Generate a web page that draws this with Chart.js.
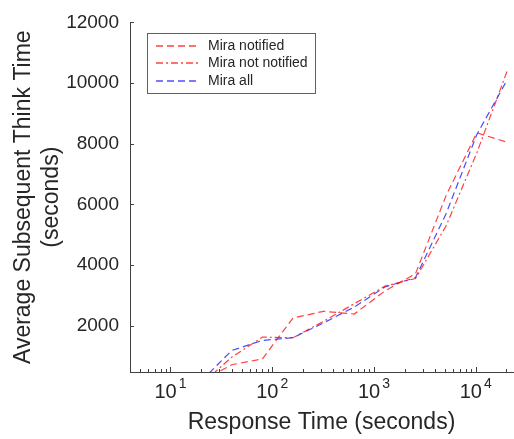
<!DOCTYPE html>
<html lang="en">
<head>
<meta charset="UTF-8">
<title>Average Subsequent Think Time</title>
<script src="https://cdn.jsdelivr.net/npm/chart.js"></script>
<style>
  body { margin: 0; padding: 0; background: #fff; }
  #wrap { width: 514px; height: 439px; }
</style>
</head>
<body>
<div id="wrap"><canvas id="chart" width="514" height="439"></canvas></div>
<script>
// response time bins (seconds)
const responseTimes = [20, 40, 80, 160, 320, 640, 1280, 2560, 5120, 10240, 20480];
// average subsequent think time (seconds)
const miraNotified    = [180, 720, 910, 2260, 2480, 2390, 3150, 3720, 6300, 8360, 8050];
const miraNotNotified = [70, 970, 1630, 1610, 2150, 2730, 3310, 3560, 5300, 7700, 10420];
const miraAll         = [180, 1190, 1520, 1610, 2100, 2620, 3280, 3590, 5700, 8300, 10120];
const seriesNames = ["Mira notified", "Mira not notified", "Mira all"];
const xTickExponents = [1, 2, 3, 4];
const yTicks = [2000, 4000, 6000, 8000, 10000, 12000];
const xRange = [4, 23240];
const yRange = [480, 12000];

const textColor = '#262626';
const axisColor = '#404040';
const red = 'rgba(255, 0, 0, 0.75)';
const blue = 'rgba(0, 0, 255, 0.7)';
const fontFamily = '"Liberation Sans", Arial, sans-serif';

function pts(ys) {
    return responseTimes.map((x, i) => ({ x: x, y: ys[i] }));
}

// ticks, superscript labels and legend box
const decor = {
    id: 'decor',
    afterDraw(chart) {
        const ctx = chart.ctx;
        const xs = chart.scales.x, ys = chart.scales.y;
        const area = chart.chartArea;
        ctx.save();
        ctx.strokeStyle = axisColor;
        ctx.lineWidth = 1;
        ctx.beginPath();
        yTicks.forEach(v => {
            const y = Math.round(ys.getPixelForValue(v)) + 0.5;
            ctx.moveTo(area.left, y);
            ctx.lineTo(area.left + 4, y);
        });
        for (let e = 0; e <= 4; e++) {
            for (let m = 1; m <= 9; m++) {
                const v = m * Math.pow(10, e);
                if (v < xRange[0] || v > xRange[1]) continue;
                const x = Math.round(xs.getPixelForValue(v)) + 0.5;
                const len = m === 1 ? 5 : 3;
                ctx.moveTo(x, area.bottom);
                ctx.lineTo(x, area.bottom - len);
            }
        }
        ctx.stroke();

        // x tick labels 10^n
        ctx.fillStyle = textColor;
        ctx.textBaseline = 'alphabetic';
        ctx.textAlign = 'left';
        xTickExponents.forEach(e => {
            const px = xs.getPixelForValue(Math.pow(10, e));
            ctx.font = '20px ' + fontFamily;
            const wBase = ctx.measureText('10').width;
            ctx.font = '14px ' + fontFamily;
            const wExp = ctx.measureText(String(e)).width;
            const x0 = px - (wBase + 2 + wExp) / 2;
            ctx.font = '20px ' + fontFamily;
            ctx.fillText('10', x0, 398);
            ctx.font = '14px ' + fontFamily;
            ctx.fillText(String(e), x0 + wBase + 2, 388);
        });

        // legend
        ctx.fillStyle = '#fff';
        ctx.fillRect(147.5, 33.5, 168, 60);
        ctx.strokeStyle = '#606060';
        ctx.lineWidth = 1;
        ctx.strokeRect(147.5, 33.5, 168, 60);
        ctx.font = '14px ' + fontFamily;
        ctx.textBaseline = 'middle';
        const legendColors = [red, red, blue];
        const legendRows = [46, 63, 81];
        chart.data.datasets.forEach((ds, i) => {
            const y = legendRows[i];
            ctx.strokeStyle = legendColors[i];
            ctx.lineWidth = 1.3;
            ctx.setLineDash(ds.borderDash);
            ctx.beginPath();
            ctx.moveTo(156, y);
            ctx.lineTo(200, y);
            ctx.stroke();
            ctx.setLineDash([]);
            ctx.fillStyle = textColor;
            ctx.fillText(ds.label, 208, y);
        });
        ctx.restore();
    }
};

new Chart(document.getElementById('chart'), {
    type: 'line',
    data: {
        datasets: [
            {
                label: seriesNames[0],
                data: pts(miraNotified),
                borderColor: red,
                borderWidth: 1.2,
                borderDash: [7, 4],
                pointRadius: 0,
                fill: false
            },
            {
                label: seriesNames[1],
                data: pts(miraNotNotified),
                borderColor: red,
                borderWidth: 1.2,
                borderDash: [7, 3, 2, 3],
                pointRadius: 0,
                fill: false
            },
            {
                label: seriesNames[2],
                data: pts(miraAll),
                borderColor: blue,
                borderWidth: 1.2,
                borderDash: [7, 4],
                pointRadius: 0,
                fill: false
            }
        ]
    },
    options: {
        responsive: false,
        animation: false,
        layout: { padding: { top: 17, right: 1, left: 0, bottom: 0 } },
        plugins: { legend: { display: false }, tooltip: { enabled: false } },
        scales: {
            x: {
                type: 'logarithmic',
                min: xRange[0],
                max: xRange[1],
                afterBuildTicks: s => { s.ticks = xTickExponents.map(e => ({ value: Math.pow(10, e) })); },
                afterFit: s => { s.height = 67; },
                ticks: { display: false },
                grid: { display: false, drawTicks: false },
                border: { display: true, color: axisColor, width: 1 },
                title: {
                    display: true,
                    text: 'Response Time (seconds)',
                    color: textColor,
                    font: { size: 23, family: fontFamily },
                    padding: { top: 0, bottom: 3 }
                }
            },
            y: {
                min: yRange[0],
                max: yRange[1],
                afterBuildTicks: s => { s.ticks = yTicks.map(v => ({ value: v })); },
                afterFit: s => { s.width = 130; },
                ticks: {
                    color: textColor,
                    font: { size: 19, family: fontFamily },
                    padding: 11,
                    callback: v => String(v)
                },
                grid: { display: false, drawTicks: false },
                border: { display: true, color: axisColor, width: 1 },
                title: {
                    display: true,
                    text: ['Average Subsequent Think Time', '(seconds)'],
                    color: textColor,
                    font: { size: 23, family: fontFamily, lineHeight: 1.2 },
                    padding: { top: 10, bottom: 0 }
                }
            }
        }
    },
    plugins: [decor]
});
</script>
</body>
</html>
